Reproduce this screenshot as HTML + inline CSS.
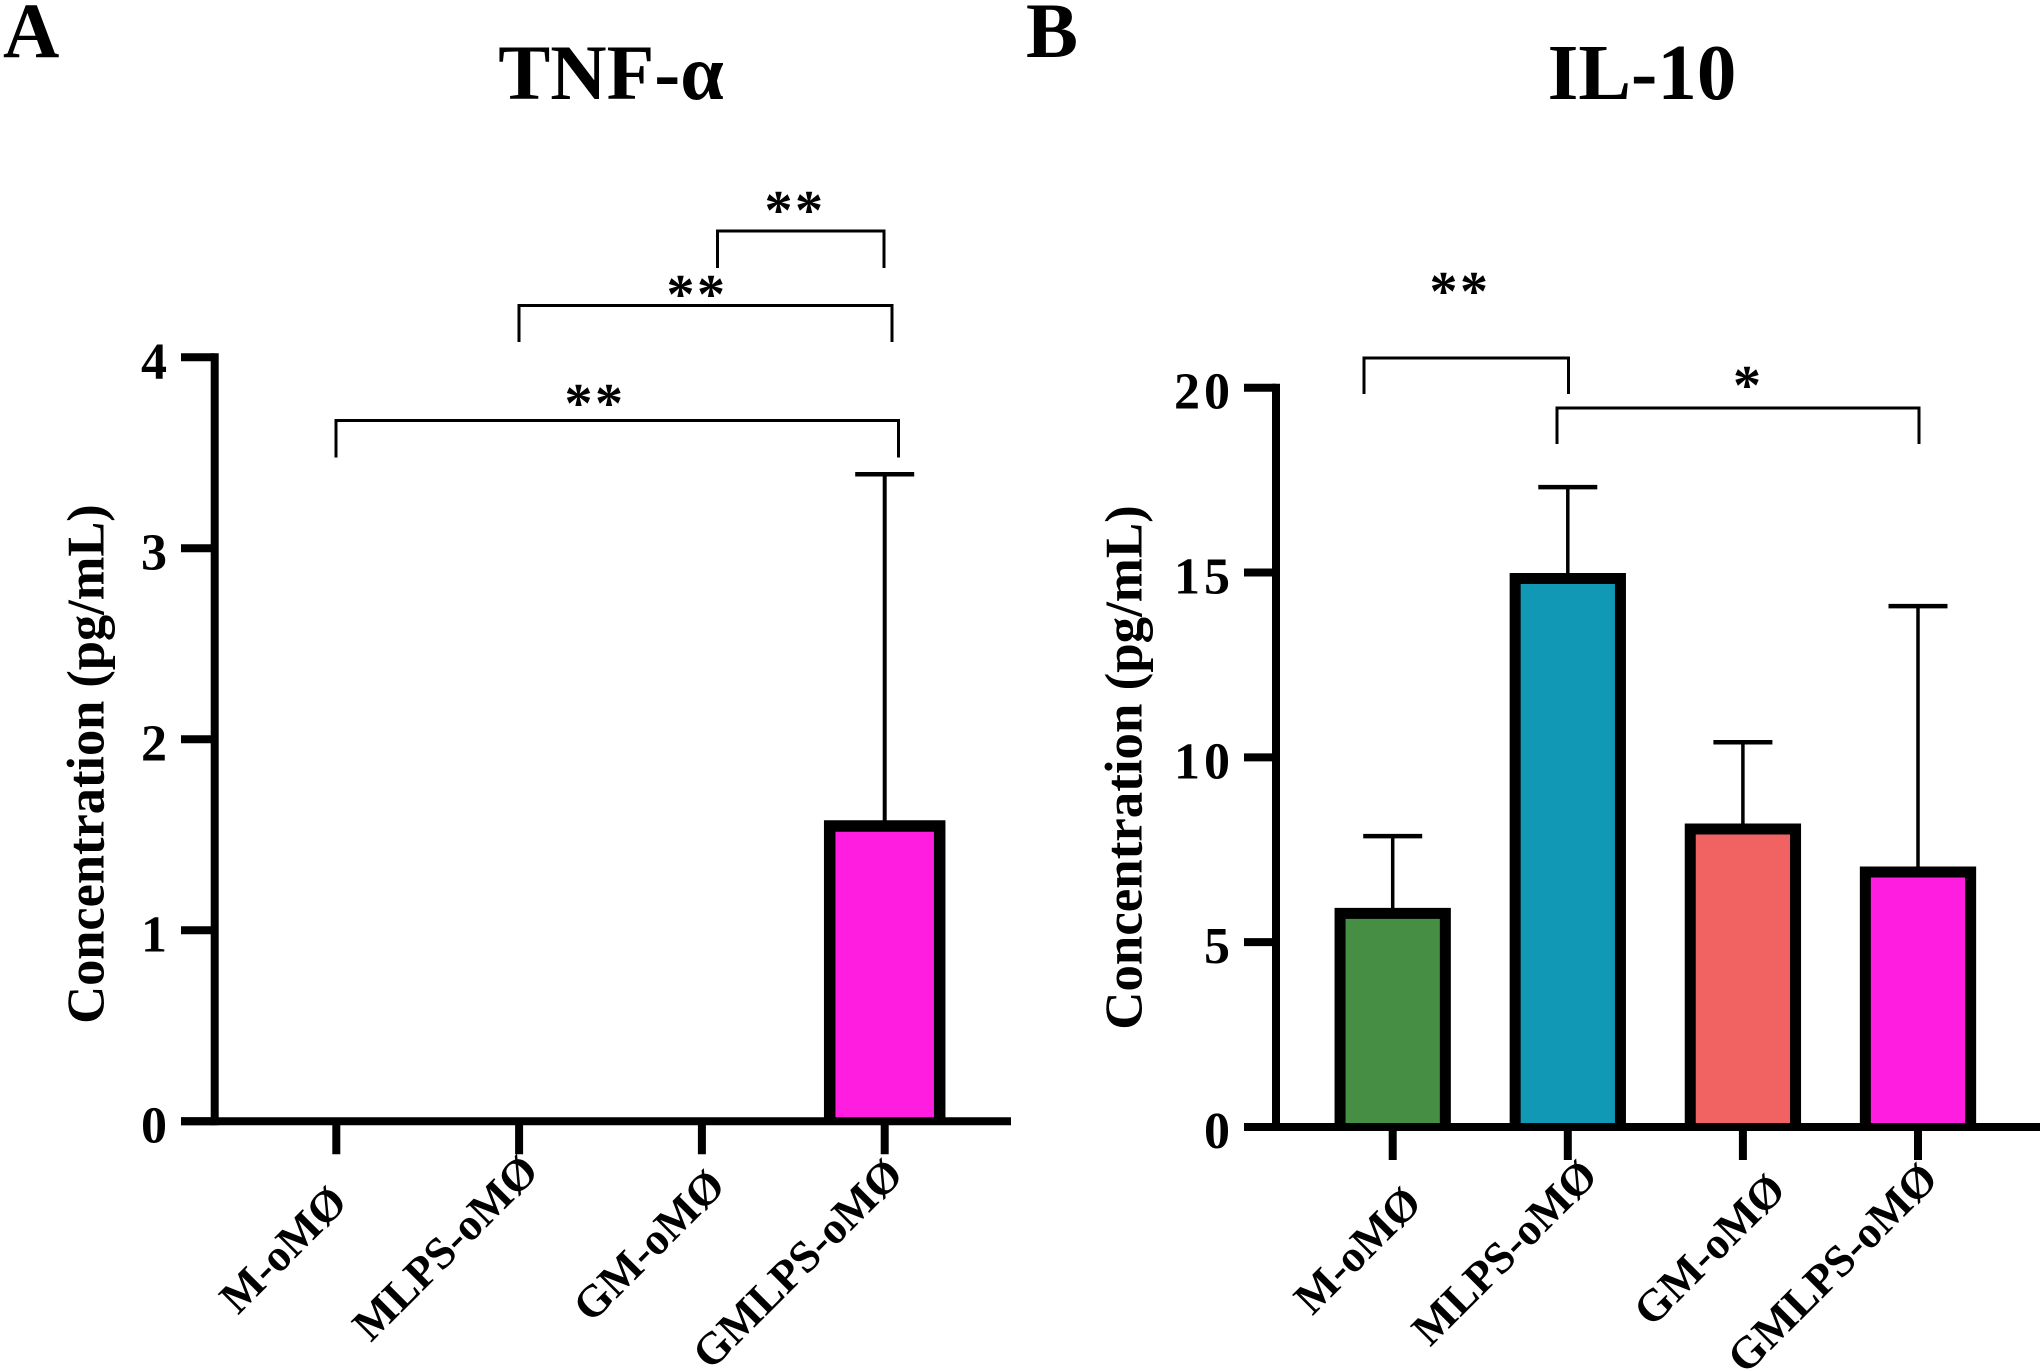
<!DOCTYPE html>
<html lang="en">
<head>
<meta charset="utf-8">
<title>TNF-α and IL-10 concentration</title>
<style>
html,body{margin:0;padding:0;background:#fff;width:2043px;height:1371px;overflow:hidden}
svg{display:block}
text{font-family:"Liberation Serif","DejaVu Serif",serif;font-weight:700;fill:#000}
.panel{font-size:78px}
.title{font-size:78px;text-anchor:middle}
.ytitle{font-size:52.4px;text-anchor:middle}
.ytick{font-size:52px;text-anchor:end}
.xtick{font-size:45px;text-anchor:end}
.star{font-size:56px;text-anchor:middle;letter-spacing:2.5px}
.bracket{fill:none;stroke:#000;stroke-width:3}
</style>
</head>
<body>
<svg id="figure" xmlns="http://www.w3.org/2000/svg" width="2043" height="1371" viewBox="0 0 2043 1371">
  <rect x="0" y="0" width="2043" height="1371" fill="#fff"/>

  <g id="panel-a">
    <text class="panel" x="3" y="57">A</text>
    <text class="title" x="611" y="99">TNF-α</text>
    <text class="ytitle" transform="translate(103.5 764) rotate(-90)">Concentration (pg/mL)</text>
    <path class="bracket" d="M717.5 268V231H884V268"/>
    <text class="star" x="795" y="229">**</text>
    <path class="bracket" d="M519 342V305.5H892V342"/>
    <text class="star" x="697" y="313">**</text>
    <path class="bracket" d="M336 457.5V420.5H898.5V457.5"/>
    <text class="star" x="595" y="422">**</text>
    <g id="plot-a"></g>
  </g>

  <g id="panel-b">
    <text class="panel" x="1026" y="57">B</text>
    <text class="title" x="1642" y="99" style="font-size:79px">IL-10</text>
    <text class="ytitle" transform="translate(1141.5 767.5) rotate(-90)" style="font-size:52.9px">Concentration (pg/mL)</text>
    <path class="bracket" d="M1364 394V358H1568.5V394"/>
    <text class="star" x="1460" y="310">**</text>
    <path class="bracket" d="M1557 444V408H1919V444"/>
    <text class="star" x="1747" y="404" style="letter-spacing:0">*</text>
    <g id="plot-b"></g>
  </g>
</svg>

<script>
const categories = ["M-oMØ", "MLPS-oMØ", "GM-oMØ", "GMLPS-oMØ"];
const tnfValues = [0, 0, 0, 1.546];
const tnfErrors = [0, 0, 0, 1.842];
const tnfTicks = [0, 1, 2, 3, 4];
const il10Values = [5.78, 14.84, 8.06, 6.9];
const il10Errors = [2.09, 2.47, 2.35, 7.19];
const il10Ticks = [0, 5, 10, 15, 20];
const tnfColors = ["#458e44", "#1098b5", "#f16363", "#ff1ee0"];
const il10Colors = ["#458e44", "#1098b5", "#f16363", "#ff1ee0"];

const SVG_NS = "http://www.w3.org/2000/svg";

function make(parent, tag, attrs, text) {
  const el = document.createElementNS(SVG_NS, tag);
  for (const k in attrs) el.setAttribute(k, attrs[k]);
  if (text !== undefined) el.textContent = text;
  parent.appendChild(el);
  return el;
}

function drawChart(cfg) {
  const g = document.getElementById(cfg.groupId);
  const y = v => cfg.baseY - (v / cfg.yMax) * cfg.axisPx;
  const x = i => cfg.firstX + i * cfg.stepX;

  // bars and error bars
  cfg.values.forEach((v, i) => {
    const cx = x(i);
    const err = cfg.errors[i];
    if (err > 0) {
      const stem = make(g, "line", {x1: cx, x2: cx, y1: y(v), y2: y(v + err), stroke: "#000", "stroke-width": cfg.whisker});
      
      
      const cap = make(g, "line", {x1: cx - 29.5, x2: cx + 29.5, y1: y(v + err), y2: y(v + err), stroke: "#000", "stroke-width": 4.5});
      
      
    }
    if (v > 0) {
      const left = cx - cfg.barW / 2;
      const right = cx + cfg.barW / 2;
      const bar = make(g, "path", {
        d: "M" + left + " " + cfg.baseY + "V" + y(v) + "H" + right + "V" + cfg.baseY,
        fill: cfg.colors[i], stroke: "#000", "stroke-width": cfg.barStroke
      });
      
      
    }
  });

  // y axis line
  const yAxis = make(g, "line", {
    x1: cfg.axisX, x2: cfg.axisX,
    y1: y(cfg.yMax) - 4, y2: cfg.baseY + 4,
    stroke: "#000", "stroke-width": 8
  });
  
  

  // x axis line
  const xAxis = make(g, "line", {
    x1: cfg.axisLeft, x2: cfg.axisRight,
    y1: cfg.baseY, y2: cfg.baseY,
    stroke: "#000", "stroke-width": 8
  });
  
  

  // y ticks
  cfg.ticks.forEach(t => {
    const tick = make(g, "line", {
      x1: cfg.axisLeft, x2: cfg.axisX,
      y1: y(t), y2: y(t),
      stroke: "#000", "stroke-width": 8
    });
    
    
    const label = make(g, "text", {
      class: "ytick",
      x: cfg.axisLeft - 14 + cfg.tickSpacing,
      y: y(t) + 21,
      style: "letter-spacing:" + cfg.tickSpacing + "px"
    }, String(t));
    
    
  });

  // x ticks and rotated labels
  categories.forEach((c, i) => {
    const cx = x(i);
    const tick = make(g, "line", {
      x1: cx, x2: cx,
      y1: cfg.baseY, y2: cfg.baseY + 33,
      stroke: "#000", "stroke-width": 8
    });
    
    
    const px = cx + cfg.labelDx[i];
    const py = cfg.baseY + cfg.labelDy[i];
    const label = make(g, "text", {class: "xtick", transform: "translate(" + px + " " + py + ") rotate(-45)"}, c);
    
    
  });
}

drawChart({
  groupId: "plot-a",
  values: tnfValues, errors: tnfErrors, ticks: tnfTicks, colors: tnfColors,
  yMax: 4, axisPx: 764, baseY: 1121.3,
  axisX: 214.7, axisLeft: 181, axisRight: 1011,
  firstX: 336.3, stepX: 182.8,
  barW: 110, barStroke: 11.5, whisker: 4, tickSpacing: 0,
  labelDx: [13, 21.5, 25.5, 20.5],
  labelDy: [83, 52, 66.5, 55.5]
});

drawChart({
  groupId: "plot-b",
  values: il10Values, errors: il10Errors, ticks: il10Ticks, colors: il10Colors,
  yMax: 20, axisPx: 739.3, baseY: 1127,
  axisX: 1276, axisLeft: 1244, axisRight: 2040,
  firstX: 1392.7, stepX: 175.1,
  barW: 105.3, barStroke: 11, whisker: 3.5, tickSpacing: 4,
  labelDx: [31, 32, 45, 22],
  labelDy: [78, 51, 65, 54]
});
</script>
</body>
</html>
